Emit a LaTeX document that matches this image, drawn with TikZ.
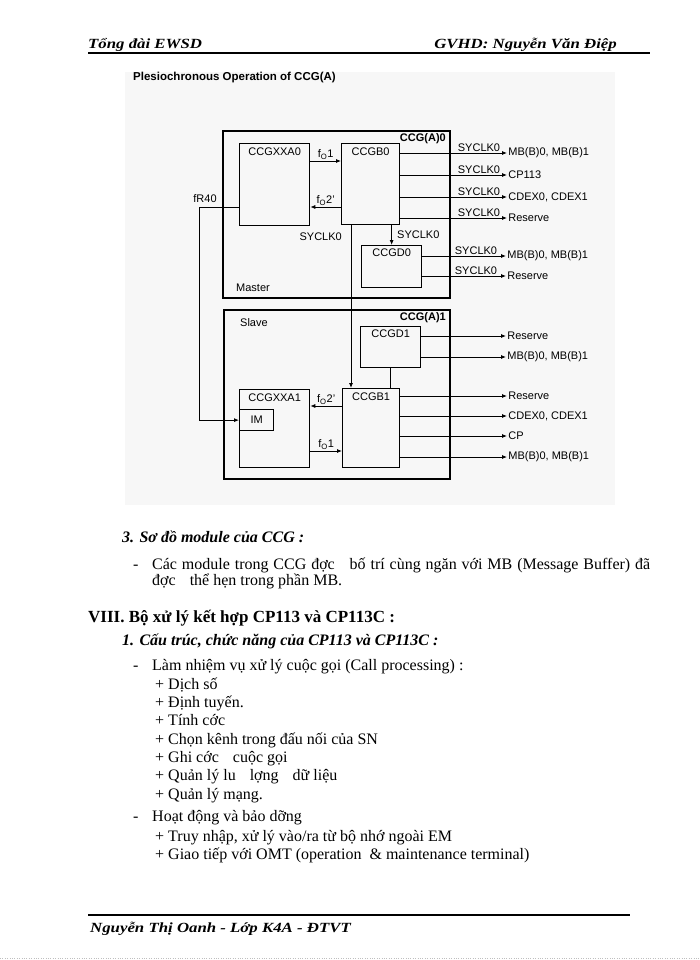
\documentclass[tikz,border=0pt]{standalone}
\usepackage{fontspec}
\setmainfont{Liberation Serif}
\setsansfont{Liberation Sans}
\newfontfamily\hdrfont[FakeStretch=1.2]{Liberation Serif}
\usetikzlibrary{arrows.meta}

\tikzset{
  grp/.style={draw, line width=1.6pt, inner sep=0pt, anchor=north west},
  blk/.style={draw, line width=1.3pt, inner sep=0pt, anchor=north west},
  sig/.style={line width=0.8pt, -{Latex[length=5pt,width=4pt]}},
  lbl/.style={font=\sffamily\fontsize{11}{12}\selectfont, inner sep=1pt},
  lblb/.style={lbl, font=\sffamily\bfseries\fontsize{11}{12}\selectfont},
  hdr/.style={font=\hdrfont\bfseries\itshape\fontsize{14}{16}\selectfont, inner sep=0pt},
  body/.style={anchor=base west, inner sep=0pt, font=\fontsize{16}{18}\selectfont},
  head/.style={body, font=\bfseries\itshape\fontsize{16}{18}\selectfont},
}

\begin{document}
\begin{tikzpicture}[x=1pt, y=-1pt]
  \useasboundingbox (0,0) rectangle (700,960);
  \fill[white] (0,0) rectangle (700,960);

  % page header
  \node[hdr, anchor=base west] (hdl) at (88,49) {Tổng đài EWSD};
  \node[hdr, anchor=base east] (hdr) at (617,49) {GVHD: Nguyễn Văn Điệp};
  \draw[line width=1.6pt] (88,53) -- (650,53);

  % scanned figure
  \fill[black!3] (125,72) rectangle (615,505);
  \node[lblb, font=\sffamily\bfseries\fontsize{11.5}{12}\selectfont, anchor=base west, inner sep=0pt] (title) at (133,81) {Plesiochronous Operation of CCG(A)};

  \node[grp, minimum width=227pt, minimum height=167pt] (master) at (222,130) {};
  \node[grp, minimum width=226pt, minimum height=169pt] (slave) at (223,309) {};
  \node[lblb, anchor=north east] (ccga0) at (447,132) {CCG(A)0};
  \node[lblb, anchor=north east] (ccga1) at (447,311) {CCG(A)1};
  \node[lbl, anchor=base west] (mst) at (235,291) {Master};
  \node[lbl, anchor=base west] (slv) at (239,326) {Slave};

  \node[blk, minimum width=70pt, minimum height=82pt, label={[lbl, anchor=north, yshift=-4pt]north:CCGXXA0}] (xa0) at (239,143) {};
  \node[blk, minimum width=58pt, minimum height=81pt, label={[lbl, anchor=north, yshift=-4pt]north:CCGB0}] (gb0) at (341,143) {};
  \node[blk, minimum width=60pt, minimum height=42pt, label={[lbl, anchor=north, yshift=-3pt]north:CCGD0}] (gd0) at (361,245) {};
  \node[blk, minimum width=60pt, minimum height=41pt, label={[lbl, anchor=north, yshift=-3pt]north:CCGD1}] (gd1) at (360,326) {};
  \node[blk, minimum width=57pt, minimum height=79pt, label={[lbl, anchor=north, yshift=-4pt]north:CCGB1}] (gb1) at (342,388) {};
  \node[blk, minimum width=70pt, minimum height=78pt, label={[lbl, anchor=north, yshift=-4pt]north:CCGXXA1}] (xa1) at (239,389) {};
  \node[blk, lbl, minimum width=34pt, minimum height=21pt] (im) at (239,409) {IM};

  % master links
  \draw[sig] ([yshift=-18pt]xa0.north east) -- node[lbl, above] (fo1a) {f\textsubscript{O}1} ([yshift=-18pt]gb0.north west);
  \draw[sig] ([yshift=-64pt]gb0.north west) -- node[lbl, above] (fo2a) {f\textsubscript{O}2'} ([yshift=-64pt]xa0.north east);
  \coordinate (fr) at (199,207);
  \draw[sig] ([yshift=-64pt]xa0.north west) -- (fr) -- (fr |- im.west) -- (im.west);
  \node[lbl, anchor=south, yshift=3pt] (fr40) at ([xshift=6pt]fr) {fR40};
  \draw[sig] (gd0.north |- gb0.south) -- (gd0.north);
  \node[lbl, anchor=west] (syd) at (396,235) {SYCLK0};
  \draw[sig] ([xshift=10pt]gb0.south west) -- ([xshift=10pt]gb0.south west |- gb1.north);
  \node[lbl, anchor=east] (syb) at (343,237) {SYCLK0};

  % slave links
  \draw[line width=0.8pt] (gd1.south) -- (gd1.south |- gb1.north);
  \draw[sig] ([yshift=-18pt]gb1.north west) -- node[lbl, above] (fo2b) {f\textsubscript{O}2'} ([yshift=-18pt]gb1.north west -| xa1.east);
  \draw[sig] ([yshift=-62pt]xa1.north east) -- node[lbl, above] (fo1b) {f\textsubscript{O}1} ([yshift=-62pt]xa1.north east -| gb1.west);

  % clock outputs
  \foreach \y/\t in {153/{MB(B)0, MB(B)1}, 175/CP113, 197/{CDEX0, CDEX1}, 218/Reserve} {
    \coordinate (ob\y) at (507,\y);
    \draw[sig] (gb0.east |- ob\y) -- (ob\y) node[lbl, right] (tb\y) {\t};
    \node[lbl, above] (sb\y) at (479,\y) {SYCLK0};
  }
  \foreach \y/\t in {256/{MB(B)0, MB(B)1}, 276/Reserve} {
    \coordinate (od\y) at (506,\y);
    \draw[sig] (gd0.east |- od\y) -- (od\y) node[lbl, right] (td\y) {\t};
    \node[lbl, above] (sd\y) at (476,\y) {SYCLK0};
  }
  \foreach \y/\t in {336/Reserve, 357/{MB(B)0, MB(B)1}} {
    \coordinate (oe\y) at (506,\y);
    \draw[sig] (gd1.east |- oe\y) -- (oe\y) node[lbl, right] (te\y) {\t};
  }
  \foreach \y/\t in {396/Reserve, 416/{CDEX0, CDEX1}, 436/CP, 457/{MB(B)0, MB(B)1}} {
    \coordinate (of\y) at (507,\y);
    \draw[sig] (gb1.east |- of\y) -- (of\y) node[lbl, right] (tf\y) {\t};
  }

  % text below the figure
  \node[head] (h3) at (122,542) {3. Sơ đồ module của CCG :};
  \node[body] (d1) at (133,569) {-};
  \node[body] (p1) at (152,569) {\makebox[498pt][s]{Các module trong CCG đợc\hspace{10pt} bố trí cùng ngăn với MB (Message Buffer) đã}};
  \node[body] (p2) at (152,585) {đợc\hspace{10pt} thể hẹn trong phần MB.};
  \node[body, font=\bfseries\fontsize{17}{18}\selectfont] (h8) at (88,622) {VIII. Bộ xử lý kết hợp CP113 và CP113C :};
  \node[head] (h1) at (122,645) {1. Cấu trúc, chức năng của CP113 và CP113C :};
  \node[body] (d2) at (133,670) {-};
  \node[body] (l0) at (152,670) {Làm nhiệm vụ xử lý cuộc gọi (Call processing) :};
  \node[body] (l1) at (155,689) {+ Dịch số};
  \node[body] (l2) at (155,707) {+ Định tuyến.};
  \node[body] (l3) at (155,725) {+ Tính cớc};
  \node[body] (l4) at (155,744) {+ Chọn kênh trong đấu nối của SN};
  \node[body] (l5) at (155,762) {+ Ghi cớc\hspace{10pt} cuộc gọi};
  \node[body] (l6) at (155,780) {+ Quản lý lu\hspace{10pt} lợng\hspace{10pt} dữ liệu};
  \node[body] (l7) at (155,799) {+ Quản lý mạng.};
  \node[body] (d3) at (133,821) {-};
  \node[body] (m0) at (152,821) {Hoạt động và bảo dỡng};
  \node[body] (m1) at (155,841) {+ Truy nhập, xử lý vào/ra từ bộ nhớ ngoài EM};
  \node[body] (m2) at (155,859) {+ Giao tiếp với OMT (operation\hspace{4pt} \& maintenance terminal)};

  % page footer
  \draw[line width=1.2pt] (88,915) -- (630,915);
  \node[hdr, anchor=base west] (ftr) at (90,932) {Nguyễn Thị Oanh - Lớp K4A - ĐTVT};
  \draw[gray!50, dotted] (0,958) -- (700,958);
\end{tikzpicture}
\end{document}
